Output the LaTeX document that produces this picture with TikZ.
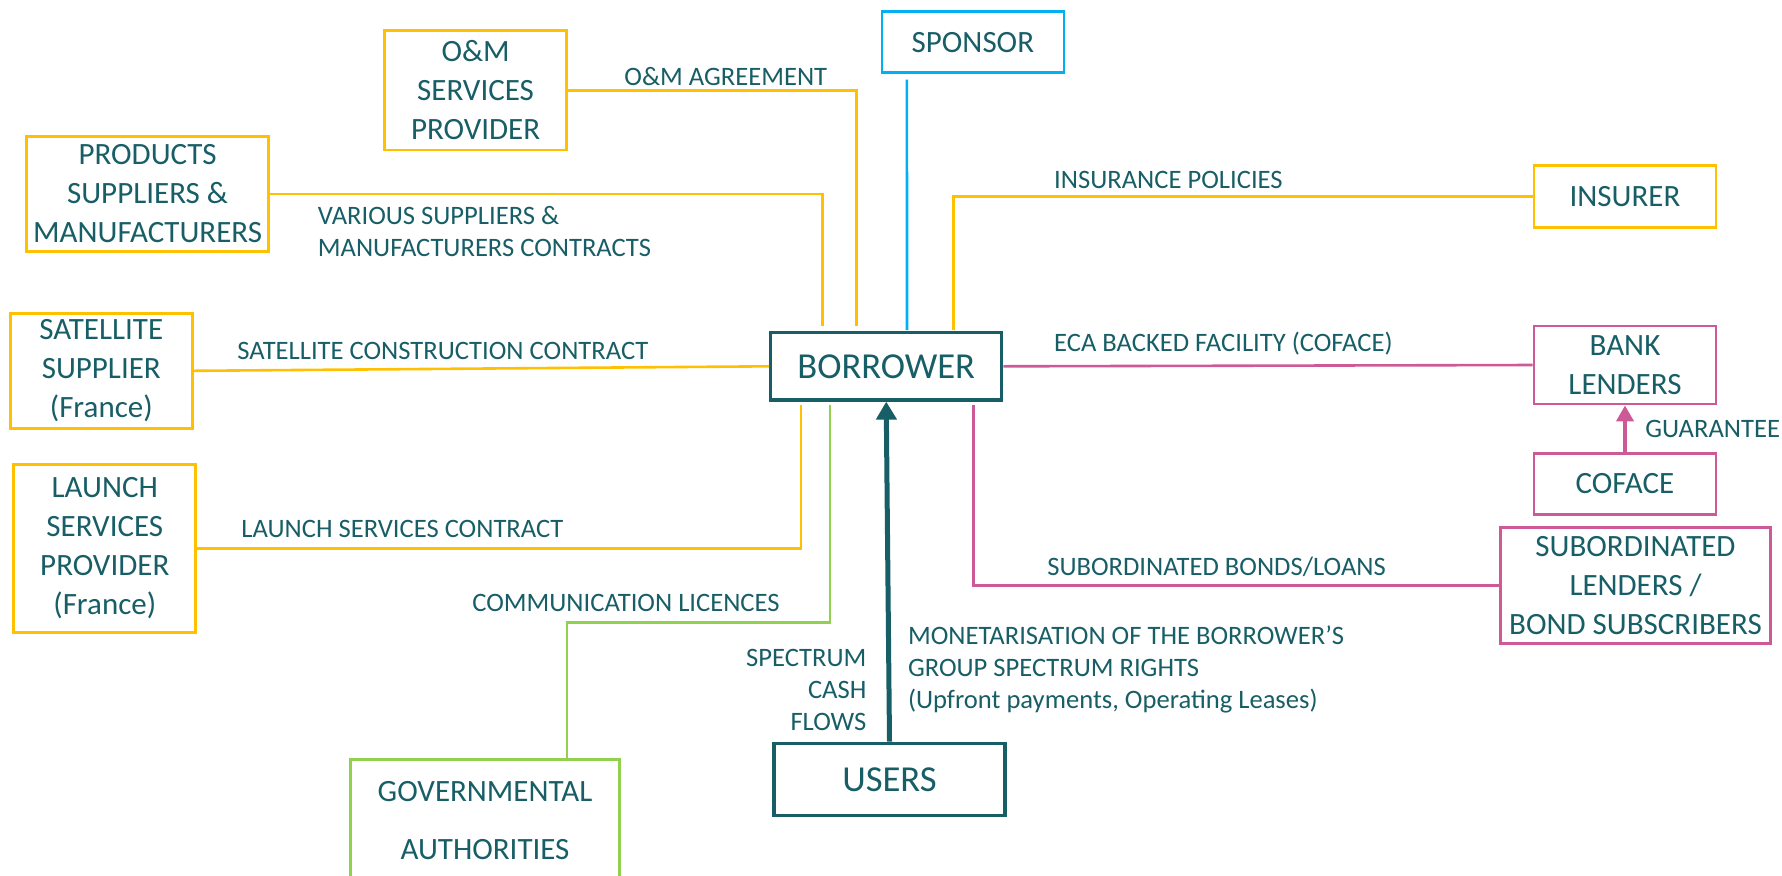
\documentclass[tikz,border=0pt]{standalone}
\usepackage{fontspec}
\setmainfont{Carlito}
\usetikzlibrary{arrows.meta,calc}
\definecolor{ink}{RGB}{24,94,102}
\definecolor{gold}{RGB}{255,192,0}
\definecolor{sky}{RGB}{0,176,240}
\definecolor{lime}{RGB}{146,208,80}
\definecolor{rose}{RGB}{205,90,150}
\tikzset{
  |-|/.style={
    to path={
      (\tikztostart) |- ($(\tikztostart)!#1!(\tikztotarget)$) -| (\tikztotarget)
      \tikztonodes
    }
  },
  |-|/.default=0.5,
}

\begin{document}
\begin{tikzpicture}
  [
    x=0.5pt, y=-0.5pt,
    block/.style =
      {draw, rectangle, line width=1.4pt, align=center, inner sep=0pt, text=ink,
       minimum width=91pt, font=\fontsize{15.5}{19.5}\selectfont},
    main/.style =
      {block, draw=ink, line width=1.6pt, minimum width=115.5pt,
       font=\fontsize{18.3}{22}\selectfont},
    tag/.style =
      {anchor=base west, align=left, inner sep=0pt, text=ink,
       font=\fontsize{13.3}{16}\selectfont},
    link/.style = {line width=1.3pt}
  ]
  \useasboundingbox (0,0) rectangle (1782,875);

  \node [block, draw=gold, minimum height=59.6pt] at ( 475.6, 90.4) (om)   {O\&M\\SERVICES\\PROVIDER};
  \node [block, draw=sky,  minimum height=30.5pt] at ( 972.9, 42.2) (spon) {SPONSOR};
  \node [block, draw=gold, minimum width=121.2pt, minimum height=57.2pt] at (147.6,193.9) (prod) {PRODUCTS\\SUPPLIERS \&\\MANUFACTURERS};
  \node [block, draw=gold, minimum height=30.8pt] at (1625.0,196.5) (ins)  {INSURER};
  \node [block, draw=gold, minimum height=57.5pt] at ( 101.3,370.8) (sat)  {SATELLITE\\SUPPLIER\\(France)};
  \node [main, minimum height=33.7pt]             at ( 886.2,366.3) (bor)  {BORROWER};
  \node [block, draw=rose, minimum height=39pt]   at (1625.0,365.0) (bank) {BANK\\LENDERS};
  \node [block, draw=rose, minimum height=30.4pt] at (1625.0,483.7) (cof)  {COFACE};
  \node [block, draw=gold, minimum height=84pt]   at ( 104.8,548.3) (lau)  {LAUNCH\\SERVICES\\PROVIDER\\(France)};
  \node [block, draw=rose, minimum width=135.2pt, minimum height=58pt] at (1635.5,585.3) (sub) {SUBORDINATED\\LENDERS /\\BOND SUBSCRIBERS};
  \node [block, draw=lime, minimum width=134.5pt, minimum height=61.2pt] at (485.0,820.5) (gov) {GOVERNMENTAL\\[9.4pt]AUTHORITIES};
  \node [main, minimum height=36.2pt]             at ( 889.5,779.5) (usr)  {USERS};

  % agreements round the borrower
  \draw[link, gold] (om.east)   -| ($(bor.north)+(-29.7,-5)$);
  \draw[link, gold] (prod.east) -| ($(bor.north)+(-63.6,-5)$);
  \draw[link, sky]  ($(spon.south)+(-66,5.6)$) -- ($(bor.north)+(20.8,-1)$);
  \draw[link, gold] (ins.west)  -| ($(bor.north)+(67.4,-1.5)$);
  \draw[link, gold] (sat.east)  -- (bor.west);
  \draw[link, gold] (lau.east)  -| ($(bor.south)+(-85.4,3)$);
  \draw[link, lime] ($(bor.south)+(-56.2,3)$) to[|-|=0.617] ($(gov.north)+(82,0)$);
  \draw[link, rose] (bor.east)  -- (bank.west);
  \draw[link, rose] ($(bor.south)+(87,3)$) |- (sub.west);

  % money flows
  \draw[draw=ink, line width=2.5pt, -{Triangle[width=10pt,length=9pt]}] (usr.north) -- (bor.south);
  \draw[draw=rose, line width=2pt, -{Triangle[width=8.5pt,length=8pt]}] (cof.north) -- (bank.south);

  \node [tag] at ( 624.0, 85.0) (omtag)   {O\&M AGREEMENT};
  \node [tag] at ( 317.5,256.7) (prodtag) {VARIOUS SUPPLIERS \&\\MANUFACTURERS CONTRACTS};
  \node [tag] at ( 237.0,359.0) (sattag)  {SATELLITE CONSTRUCTION CONTRACT};
  \node [tag] at ( 241.0,537.3) (lautag)  {LAUNCH SERVICES CONTRACT};
  \node [tag] at ( 471.9,611.7) (govtag)  {COMMUNICATION LICENCES};
  \node [tag, anchor=base east, align=right] at (866.8,730.0) (cashtag) {SPECTRUM\\CASH\\FLOWS};
  \node [tag] at ( 907.6,708.3) (usrtag)  {MONETARISATION OF THE BORROWER’S\\GROUP SPECTRUM RIGHTS\\(Upfront payments, Operating Leases)};
  \node [tag] at (1053.8,188.3) (instag)  {INSURANCE POLICIES};
  \node [tag] at (1053.8,351.7) (banktag) {ECA BACKED FACILITY (COFACE)};
  \node [tag] at (1645.0,437.7) (coftag)  {GUARANTEE};
  \node [tag] at (1046.9,575.7) (subtag)  {SUBORDINATED BONDS/LOANS};

\end{tikzpicture}
\end{document}
